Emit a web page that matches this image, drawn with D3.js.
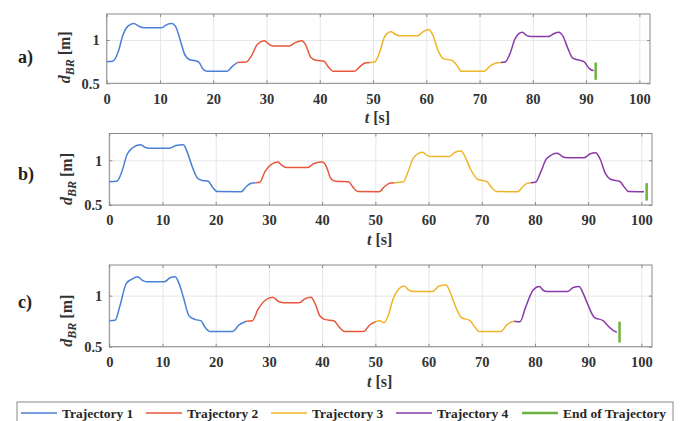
<!DOCTYPE html>
<html>
<head>
<meta charset="utf-8">
<script src="https://cdn.jsdelivr.net/npm/d3@7"></script>
<style>
  body { margin: 0; background: #fff; }
  svg text { font-family: "Liberation Serif", "Times New Roman", Times, serif; font-weight: bold; }
</style>
</head>
<body>
<div id="chart"></div>
<script>
// tick values
var xTicks = [0, 10, 20, 30, 40, 50, 60, 70, 80, 90, 100];
var yTicks = [0.5, 1];
var seriesNames = ["Trajectory 1", "Trajectory 2", "Trajectory 3", "Trajectory 4", "End of Trajectory"];
var seriesColors = ["#4a7fd6", "#e8573a", "#f0b429", "#8a3aa8", "#6db33f"];

// panel a) : [t, d_BR]
var a1 = [[0,0.75],[1.1,0.755],[2.2,0.87],[3,1.05],[4,1.16],[5.1,1.19],[6,1.16],[7,1.14],[10.3,1.14],[11.2,1.175],[12.2,1.19],[12.9,1.16],[13.8,1.0],[14.6,0.84],[15.5,0.775],[16.6,0.76],[17.3,0.745],[18,0.67],[18.8,0.64],[22.6,0.64],[23.5,0.69],[24.5,0.74]];
var a2 = [[24.5,0.74],[26.2,0.745],[27.2,0.82],[28.3,0.95],[29.6,0.99],[30.5,0.95],[31.2,0.93],[34.3,0.93],[35.4,0.97],[36.6,0.99],[37.3,0.95],[38.3,0.8],[39.3,0.765],[40.8,0.755],[41.6,0.69],[42.5,0.64],[46.5,0.64],[47.5,0.69],[48.5,0.735],[49.4,0.74]];
var a3 = [[49.4,0.74],[50.3,0.745],[51.2,0.85],[52.2,1.04],[53.4,1.095],[54.3,1.06],[55,1.05],[58.4,1.05],[59.5,1.1],[60.5,1.12],[61.2,1.06],[62.2,0.88],[63.2,0.785],[64.8,0.765],[65.6,0.72],[66.6,0.64],[70.9,0.64],[72,0.7],[73.1,0.735],[74,0.74]];
var a4 = [[74,0.74],[74.8,0.745],[75.7,0.84],[76.7,1.02],[78,1.09],[78.9,1.05],[79.7,1.04],[83,1.04],[84,1.075],[84.9,1.09],[85.6,1.05],[86.6,0.9],[87.5,0.79],[88.9,0.765],[89.6,0.75],[90.6,0.67],[91.4,0.645]];
var aEnd = [[91.8,0.54],[91.8,0.74]];

// panel b)
var b1 = [[0,0.76],[1.4,0.765],[2.4,0.88],[3.3,1.06],[4.4,1.14],[5.8,1.175],[6.6,1.15],[7.4,1.135],[11.3,1.135],[12.5,1.165],[13.9,1.175],[14.6,1.1],[15.4,0.96],[16.6,0.8],[17.5,0.775],[18.6,0.765],[19.4,0.7],[20.3,0.65],[24.8,0.648],[25.8,0.71],[26.8,0.745],[27.5,0.75]];
var b2 = [[27.5,0.75],[28.3,0.755],[29.3,0.88],[30.6,0.96],[31.7,0.98],[32.5,0.94],[33.3,0.92],[37.3,0.92],[38.5,0.965],[40.1,0.98],[40.8,0.93],[41.6,0.8],[42.5,0.765],[45,0.76],[45.8,0.7],[46.7,0.65],[50.7,0.648],[51.8,0.71],[52.8,0.745],[53.6,0.75]];
var b3 = [[53.6,0.75],[55.3,0.76],[56.2,0.88],[57.2,1.03],[58.9,1.09],[59.7,1.055],[60.4,1.044],[63.9,1.044],[65,1.09],[66.1,1.105],[66.8,1.05],[67.9,0.9],[69.3,0.785],[70.9,0.765],[71.8,0.7],[72.9,0.65],[76.7,0.648],[77.8,0.71],[78.6,0.745],[79.2,0.75]];
var b4 = [[79.2,0.75],[80.1,0.755],[81.1,0.87],[82.2,1.02],[84.2,1.08],[85.2,1.04],[86.1,1.028],[89.2,1.028],[90.3,1.07],[91.4,1.085],[92.2,1.02],[93.2,0.86],[94.3,0.785],[95.9,0.765],[96.8,0.7],[97.6,0.65],[100.5,0.648]];
var bEnd = [[101,0.55],[101,0.745]];

// panel c)
var c1 = [[0,0.755],[1.1,0.76],[2,0.9],[3.2,1.12],[4.2,1.16],[5.3,1.186],[6.2,1.15],[7,1.137],[10.4,1.137],[11.4,1.175],[12.4,1.186],[13.1,1.12],[13.9,0.99],[15,0.8],[16.2,0.765],[17.2,0.755],[18,0.69],[18.9,0.65],[23.2,0.648],[24.3,0.71],[25.75,0.75]];
var c2 = [[25.75,0.75],[26.9,0.755],[27.9,0.86],[29.2,0.95],[30.7,0.984],[31.9,0.94],[32.9,0.93],[35.7,0.93],[36.8,0.97],[37.9,0.984],[38.7,0.92],[39.6,0.8],[40.6,0.765],[42.2,0.755],[43.1,0.7],[44.2,0.65],[47.8,0.648],[48.9,0.71],[50.1,0.745]];
var c3 = [[50.1,0.745],[50.8,0.755],[51.6,0.735],[52.4,0.8],[53.3,0.96],[54.5,1.07],[55.4,1.095],[56.4,1.05],[57.3,1.04],[60.7,1.04],[62,1.095],[63.3,1.105],[64,1.04],[64.8,0.93],[66.2,0.785],[67.8,0.755],[68.6,0.7],[69.5,0.65],[73.6,0.648],[74.8,0.72],[76.1,0.75]];
var c4 = [[76.1,0.75],[77.2,0.745],[78.2,0.88],[79.6,1.05],[80.8,1.09],[81.6,1.05],[82.3,1.04],[86.1,1.04],[87.2,1.08],[88.3,1.09],[89,1.03],[89.8,0.93],[91.2,0.785],[92.8,0.755],[93.8,0.7],[95.1,0.648],[95.4,0.645]];
var cEnd = [[95.9,0.54],[95.9,0.745]];

var panels = [
    { label: "a)", series: [a1, a2, a3, a4], end: aEnd, left: 106.7, right: 650, top: 14, bottom: 83.3, labelY: 63 },
    { label: "b)", series: [b1, b2, b3, b4], end: bEnd, left: 109.3, right: 652, top: 133.5, bottom: 205, labelY: 180 },
    { label: "c)", series: [c1, c2, c3, c4], end: cEnd, left: 109.3, right: 652, top: 265, bottom: 346.7, labelY: 308 }
];

var serif = "'Liberation Serif', 'Times New Roman', Times, serif";

var svg = d3.select("#chart")
    .append("svg")
    .attr("width", 681)
    .attr("height", 421)
    .style("font-family", serif);

var textColor = "#333";
var boxColor = "#8a8a8a";

panels.forEach(function(p) {
    var w = p.right - p.left,
        h = p.bottom - p.top;

    var x = d3.scaleLinear().domain([0, 102]).range([0, w]);
    var y = d3.scaleLinear().domain([0.5, 1.3]).range([h, 0]);

    var g = svg.append("g")
        .attr("transform", "translate(" + p.left + "," + p.top + ")");

    // grid
    g.append("g")
        .attr("transform", "translate(0," + h + ")")
        .call(d3.axisBottom(x).tickValues(xTicks).tickSize(-h).tickFormat(""))
        .call(function(s) {
            s.select(".domain").remove();
            s.selectAll("line").attr("stroke", "#e6e6e6");
        });
    g.append("g")
        .call(d3.axisLeft(y).tickValues(yTicks).tickSize(-w).tickFormat(""))
        .call(function(s) {
            s.select(".domain").remove();
            s.selectAll("line").attr("stroke", "#e6e6e6");
        });

    // the lines
    var line = d3.line()
        .curve(d3.curveMonotoneX)
        .x(function(d) { return x(d[0]); })
        .y(function(d) { return y(d[1]); });

    p.series.forEach(function(s, i) {
        g.append("path")
            .datum(s)
            .attr("d", line)
            .attr("fill", "none")
            .attr("stroke", seriesColors[i])
            .attr("stroke-width", 1.5);
    });

    g.append("path")
        .datum(p.end)
        .attr("d", d3.line().x(function(d) { return x(d[0]); }).y(function(d) { return y(d[1]); }))
        .attr("stroke", seriesColors[4])
        .attr("stroke-width", 2.5);

    // axes, ticks inside on all 4 sides
    var xb = g.append("g")
        .attr("transform", "translate(0," + h + ")")
        .call(d3.axisBottom(x).tickValues(xTicks).tickSizeInner(-3).tickSizeOuter(0).tickPadding(10));
    var xt = g.append("g")
        .call(d3.axisTop(x).tickValues(xTicks).tickSizeInner(-3).tickSizeOuter(0).tickFormat(""));
    var yl = g.append("g")
        .call(d3.axisLeft(y).tickValues(yTicks).tickSizeInner(-3).tickSizeOuter(0).tickPadding(7)
            .tickFormat(function(d) { return d === 1 ? "1" : d; }));
    var yr = g.append("g")
        .attr("transform", "translate(" + w + ",0)")
        .call(d3.axisRight(y).tickValues(yTicks).tickSizeInner(-3).tickSizeOuter(0).tickFormat(""));

    [xb, xt, yl, yr].forEach(function(a) {
        a.attr("font-family", null);
        a.select(".domain").remove();
        a.selectAll("line").attr("stroke", boxColor);
        a.selectAll("text")
            .attr("fill", textColor)
            .style("font-size", "14.5px")
            .style("font-family", serif)
            .style("font-weight", "bold");
    });
    yl.selectAll("text").attr("dy", "0.34em");

    g.append("rect")
        .attr("width", w)
        .attr("height", h)
        .attr("fill", "none")
        .attr("stroke", boxColor)
        .attr("stroke-width", 1);

    // x label
    var xl = svg.append("text")
        .attr("x", p.left + w / 2 - 1)
        .attr("y", p.bottom + 40)
        .attr("text-anchor", "middle")
        .attr("fill", textColor)
        .style("font-size", "16px");
    xl.append("tspan").style("font-style", "italic").text("t");
    xl.append("tspan").text(" [s]");

    // y label
    var ylab = svg.append("text")
        .attr("transform", "translate(" + (p.left - 37) + "," + (p.bottom) + ") rotate(-90)")
        .attr("fill", textColor)
        .style("font-size", "16px");
    ylab.append("tspan").style("font-style", "italic").text("d");
    ylab.append("tspan").style("font-style", "italic").style("font-size", "12px").attr("dy", 4).text("BR");
    ylab.append("tspan").attr("dy", -4).text(" [m]");

    // panel letter
    svg.append("text")
        .attr("x", 18)
        .attr("y", p.labelY)
        .attr("fill", "#222")
        .style("font-size", "18px")
        .text(p.label);
});

// legend
var legend = svg.append("g");
legend.append("rect")
    .attr("x", 17)
    .attr("y", 402)
    .attr("width", 656)
    .attr("height", 24)
    .attr("fill", "#fff")
    .attr("stroke", "#8a8a8a");

var legendX = [21, 146, 271, 396, 522];
seriesNames.forEach(function(name, i) {
    legend.append("line")
        .attr("x1", legendX[i])
        .attr("x2", legendX[i] + 36)
        .attr("y1", 413)
        .attr("y2", 413)
        .attr("stroke", seriesColors[i])
        .attr("stroke-width", i === 4 ? 2.5 : 1.5);
    legend.append("text")
        .attr("x", legendX[i] + 41)
        .attr("y", 417.5)
        .attr("fill", "#262626")
        .style("font-size", "13.5px")
        .text(name);
});
</script>
</body>
</html>
